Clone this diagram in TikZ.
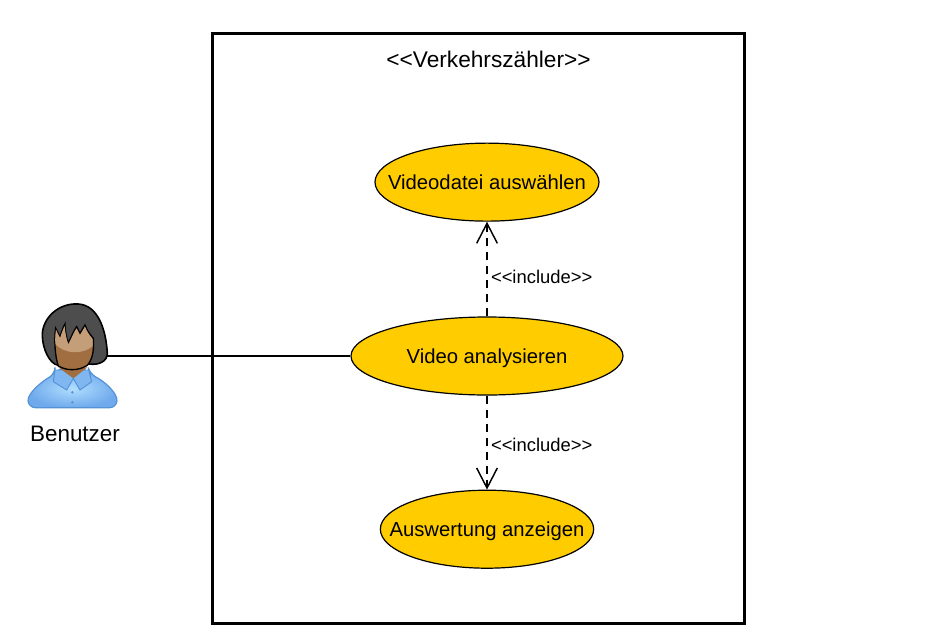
\documentclass[tikz,border=0pt]{standalone}
\usepackage{fontspec}
\setmainfont{Liberation Sans}
\usetikzlibrary{shapes.geometric,arrows.meta,positioning}
\definecolor{usecase}{RGB}{255,204,0}
\definecolor{hair}{RGB}{77,77,77}
\definecolor{skin}{RGB}{160,110,64}
\definecolor{skinlight}{RGB}{196,158,120}
\definecolor{shirt}{RGB}{112,170,236}
\definecolor{shirtlight}{RGB}{176,222,255}
\definecolor{shirtline}{RGB}{84,146,214}
\newcommand{\uctext}[1]{\makebox[0pt]{\raisebox{-5.5pt}[0pt][0pt]{#1}}}
\begin{document}
\begin{tikzpicture}[x=0.75pt,y=-0.75pt,font=\fontsize{15.2}{18}\selectfont]
\tikzset{uc/.style={draw=black,line width=0.9pt,fill=usecase,ellipse,minimum height=58.5pt,inner sep=0pt},
dep/.style={-{Straight Barb[length=15pt,width=15.5pt,line width=1.1pt]},line width=1pt,dash pattern=on 6.5pt off 4pt},
incl/.style={font=\fontsize{13.8}{16}\selectfont,right,inner sep=2.5pt}}
\useasboundingbox (0,0) rectangle (941,639);
\node[draw=black,line width=2.25pt,minimum width=399pt,minimum height=442.5pt,inner sep=0pt] (system) at (478.25,328) {};
\node[font=\fontsize{17}{20}\selectfont] (title) at (488.5,59) {<{}<Verkehrszähler>{}>};
\node[uc,minimum width=204pt] (video) at (487,356) {\uctext{Video analysieren}};
\node[uc,minimum width=168pt,above=71pt of video] (datei) {\uctext{Videodatei auswählen}};
\node[uc,minimum width=160pt,below=70.5pt of video] (anzeige) {\uctext{Auswertung anzeigen}};
% actor
\begin{scope}[shift={(10,290)},x=0.25pt,y=-0.25pt]
\draw[shirtline,line width=0.9pt,rounded corners=5pt,inner color=shirtlight,outer color=shirt] (56,353) .. controls (52,310) and (95,275) .. (135,252) -- (135,238) -- (236,238) -- (240,252) .. controls (285,275) and (323,310) .. (319,353) -- cycle;
\draw[shirtline,line width=0.7pt,fill=shirtlight!25!shirt] (135,240) -- (130,275) -- (170,300) -- (190,265) -- (210,300) -- (245,275) -- (236,240) -- cycle;
\fill[skin] (145,232) -- (190,265) -- (232,232) -- cycle;
\fill[shirtline] (187,307) circle (4);
\fill[shirtline] (187,337) circle (4);
\draw[black,line width=1.2pt,fill=hair] (205,42) .. controls (145,38) and (97,85) .. (97,135) .. controls (97,175) and (118,222) .. (145,226) -- (238,222) .. controls (265,226) and (292,215) .. (292,190) .. controls (288,120) and (265,46) .. (205,42) -- cycle;
\draw[black,line width=1pt,fill=skin] (137,115) -- (150,140) .. controls (155,125) and (160,110) .. (165,102) .. controls (165,125) and (170,145) .. (175,158) .. controls (185,140) and (192,120) .. (200,110) -- (210,130) -- (225,105) .. controls (232,125) and (242,135) .. (250,145) .. controls (252,175) and (250,205) .. (232,226) .. controls (205,243) and (170,243) .. (145,228) .. controls (135,200) and (132,150) .. (137,115) -- cycle;
\fill[skinlight] (138,119) -- (150,144) .. controls (155,129) and (160,116) .. (164,108) .. controls (165,128) and (170,148) .. (175,163) .. controls (185,145) and (192,125) .. (200,115) -- (210,135) -- (225,110) .. controls (232,128) and (240,138) .. (248,148) -- (248,168) .. controls (225,190) and (170,198) .. (136,162) .. controls (135,145) and (136,132) .. (138,119) -- cycle;
\end{scope}
\node[inner sep=0pt,minimum width=52.5pt,minimum height=78pt] (actor) at (72,356) {};
\node[font=\fontsize{16.8}{20}\selectfont] (benutzer) at (75,434) {Benutzer};
\draw[line width=1pt] (actor.east) -- (video.west);
\draw[dep] (video) -- (datei) node[incl,pos=0.42] (inclA) {<{}<include>{}>};
\draw[dep] (video) -- (anzeige) node[incl,pos=0.52] (inclB) {<{}<include>{}>};
\end{tikzpicture}
\end{document}
